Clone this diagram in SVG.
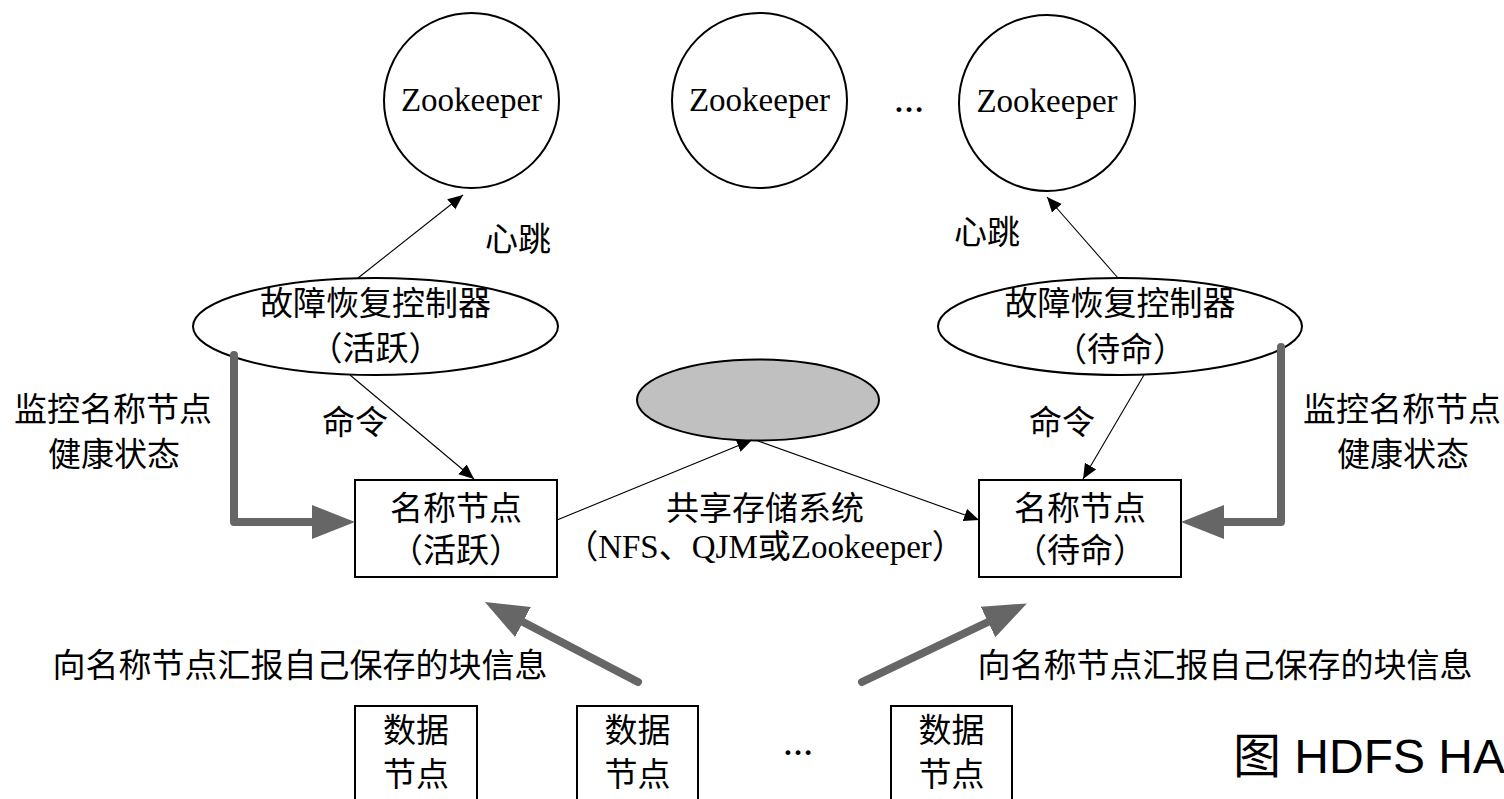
<svg xmlns="http://www.w3.org/2000/svg" width="1504" height="799" viewBox="0 0 1504 799">
<style>
text{font-family:"Liberation Serif","Noto Sans CJK SC",serif;font-size:33px;fill:#000;text-anchor:middle}
.shape{fill:#fff;stroke:#000;stroke-width:2}
.thin{fill:none;stroke:#000;stroke-width:1.1}
.thick{fill:none;stroke:#666;stroke-width:8;stroke-linecap:round;stroke-linejoin:round}
.dots{font-weight:bold;font-size:30px}
.title{font-family:"Liberation Sans","Noto Sans CJK SC",sans-serif;font-size:48px;text-anchor:start}
</style>
<defs>
<marker id="ah" markerUnits="userSpaceOnUse" markerWidth="16" markerHeight="14" refX="15" refY="6.5" orient="auto">
<path d="M0,0 L15,6.5 L0,13 z" fill="#000"/>
</marker>
<marker id="th" markerUnits="userSpaceOnUse" markerWidth="44" markerHeight="36" refX="0" refY="17" orient="auto">
<path d="M0,0 L43,17 L0,34 z" fill="#666"/>
</marker>
</defs>
<rect width="1504" height="799" fill="#fff"/>

<g id="zk1"><circle class="shape" cx="471.5" cy="100.5" r="87.5"/><text x="471.5" y="111">Zookeeper</text></g>
<g id="zk2"><circle class="shape" cx="759.5" cy="100.5" r="87.5"/><text x="759.5" y="111">Zookeeper</text></g>
<g id="zkdots"><text class="dots" x="909" y="112">…</text></g>
<g id="zk3"><circle class="shape" cx="1047" cy="103" r="88"/><text x="1047" y="112">Zookeeper</text></g>

<g id="zkfc-active"><ellipse class="shape" cx="375.5" cy="326.5" rx="182.5" ry="48.5"/>
<text x="375.5" y="315">故障恢复控制器</text><text x="375.5" y="360">（活跃）</text></g>
<g id="zkfc-standby"><ellipse class="shape" cx="1120" cy="326.5" rx="182" ry="48.5"/>
<text x="1120" y="315">故障恢复控制器</text><text x="1120" y="361">（待命）</text></g>

<g id="shared-storage"><ellipse cx="758" cy="400" rx="121" ry="40.5" fill="#c0c0c0" stroke="#000" stroke-width="2"/></g>

<g id="nn-active"><rect class="shape" x="355" y="480" width="202" height="97"/>
<text x="456" y="520">名称节点</text><text x="456" y="562">（活跃）</text></g>
<g id="nn-standby"><rect class="shape" x="979" y="480" width="202" height="97"/>
<text x="1080" y="520">名称节点</text><text x="1080" y="562">（待命）</text></g>

<g id="dn1"><rect class="shape" x="355" y="706" width="122" height="120"/><text x="416" y="742" font-size="32">数据</text><text x="416" y="786" font-size="32">节点</text></g>
<g id="dn2"><rect class="shape" x="577" y="706" width="121" height="120"/><text x="637.5" y="742" font-size="32">数据</text><text x="637.5" y="786" font-size="32">节点</text></g>
<g id="dndots"><text class="dots" x="798" y="755">…</text></g>
<g id="dn3"><rect class="shape" x="891" y="706" width="121" height="120"/><text x="951.5" y="742" font-size="32">数据</text><text x="951.5" y="786" font-size="32">节点</text></g>

<g id="connectors">
<line class="thin" x1="358" y1="278" x2="463" y2="195" marker-end="url(#ah)"/>
<line class="thin" x1="1118" y1="278" x2="1047" y2="197" marker-end="url(#ah)"/>
<line class="thin" x1="350" y1="375" x2="474" y2="479" marker-end="url(#ah)"/>
<line class="thin" x1="1144" y1="375" x2="1083" y2="479" marker-end="url(#ah)"/>
<line class="thin" x1="557" y1="520" x2="752" y2="440" marker-end="url(#ah)"/>
<line class="thin" x1="758" y1="441" x2="979" y2="520" marker-end="url(#ah)"/>
<path class="thick" d="M234,355 V522 H312" marker-end="url(#th)"/>
<path class="thick" d="M1281,347 V522 H1224" marker-end="url(#th)"/>
<path class="thick" d="M638,682 L523,622" marker-end="url(#th)"/>
<path class="thick" d="M862,682 L988,622" marker-end="url(#th)"/>
</g>

<g id="labels">
<text x="518" y="251">心跳</text>
<text x="987" y="244">心跳</text>
<text x="355" y="434">命令</text>
<text x="1062" y="434">命令</text>
<text x="113" y="421">监控名称节点</text>
<text x="114" y="466">健康状态</text>
<text x="1402" y="421">监控名称节点</text>
<text x="1403" y="466">健康状态</text>
<text x="765" y="520">共享存储系统</text>
<text x="765" y="558" font-size="32">（NFS、QJM或Zookeeper）</text>
<text x="300" y="677">向名称节点汇报自己保存的块信息</text>
<text x="1225" y="677">向名称节点汇报自己保存的块信息</text>
<text class="title" x="1233" y="773">图 HDFS HA</text>
</g>
</svg>
